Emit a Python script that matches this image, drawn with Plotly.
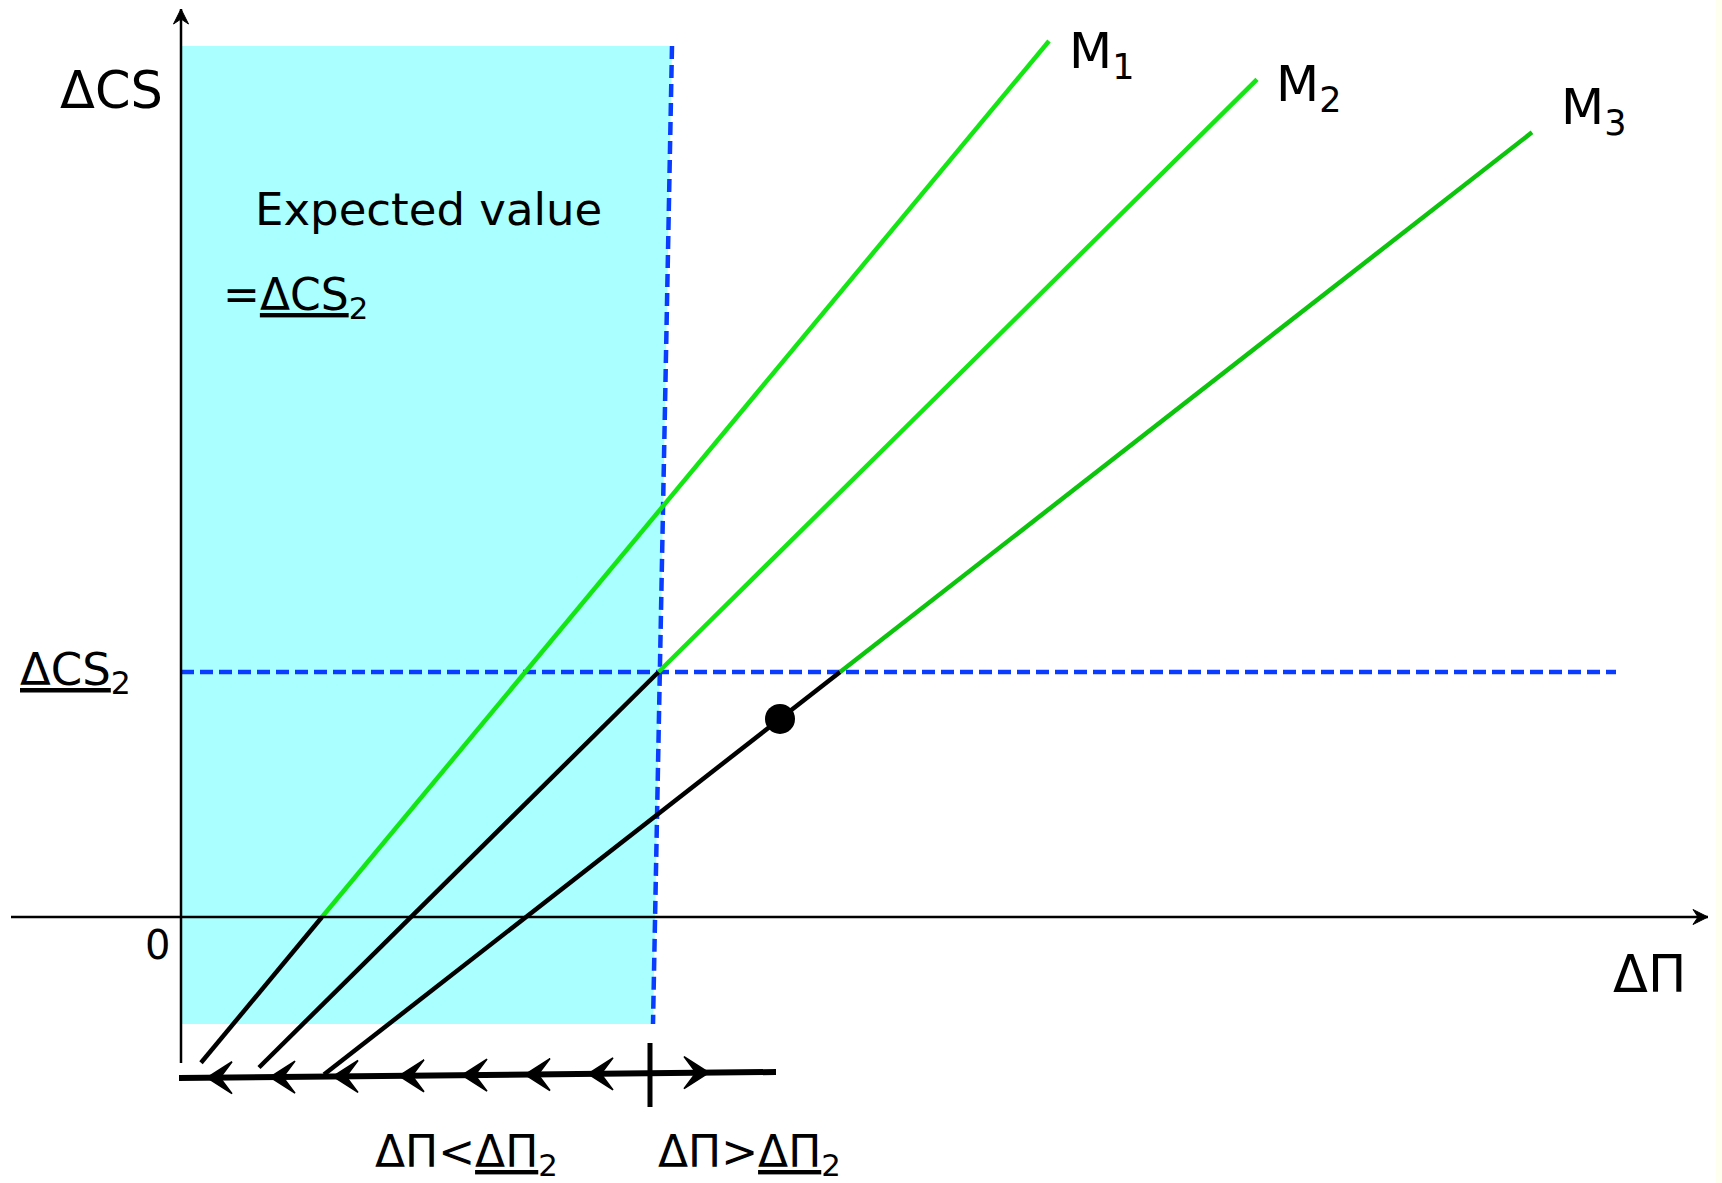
import plotly.graph_objects as go

# ---- data (conceptual diagram units; origin = (0,0) of ΔΠ / ΔCS axes) ----
model_names = ["M<sub>1</sub>", "M<sub>2</sub>", "M<sub>3</sub>"]
x_intercepts = [1.41, 2.30, 3.45]        # ΔΠ where each M line crosses ΔCS = 0
slopes = [1.205, 0.99, 0.78]
line_start_x = [0.20, 0.78, 1.43]        # start of the black part
line_end_x = [8.68, 10.76, 13.51]        # end of the green part
green_colors = ["#14e614", "#14e614", "#0cc40c"]

dcs2 = 2.45                               # ΔCS_2 threshold
dpi2_top, dpi2_bottom = 4.91, 4.72        # ΔΠ_2 dashed line (slightly slanted)
region_top, region_bottom = 8.71, -1.07   # expected-value shaded region
dcs2_line_end = 14.35

dot_x = 5.99                              # point on M3

axis_x_range = [-1.70, 15.27]
axis_y_range = [-1.46, 9.08]

numline_x = [-0.02, 5.95]
numline_y = [-1.61, -1.55]
tick_x = 4.69
tick_y = [-1.26, -1.90]
left_arrow_tips = [0.26, 0.89, 1.52, 2.18, 2.81, 3.44, 4.07]
right_arrow_tips = [5.28]

BLUE = "#0a3cff"
CYAN = "#aaffff"
FONT = "DejaVu Sans"

fig = go.Figure()

# shaded expected-value region
fig.add_trace(go.Scatter(
    x=[0, dpi2_top, dpi2_bottom, 0, 0],
    y=[region_top, region_top, region_bottom, region_bottom, region_top],
    fill="toself", fillcolor=CYAN, line=dict(width=0), mode="lines",
    hoverinfo="skip"))

# blue dashed lines
fig.add_trace(go.Scatter(x=[0, dcs2_line_end], y=[dcs2, dcs2], mode="lines",
                         line=dict(color=BLUE, width=4.5, dash="13px,6px")))
fig.add_trace(go.Scatter(x=[dpi2_top, dpi2_bottom], y=[region_top, region_bottom], mode="lines",
                         line=dict(color=BLUE, width=4.5, dash="13px,6px")))

# model lines: black below threshold, green above
for i in range(3):
    s, x0 = slopes[i], x_intercepts[i]
    ys = s * (line_start_x[i] - x0)
    ye = s * (line_end_x[i] - x0)
    y_switch = 0.0 if i == 0 else dcs2
    x_switch = x0 + y_switch / s
    fig.add_trace(go.Scatter(x=[line_start_x[i], x_switch], y=[ys, y_switch], mode="lines",
                             line=dict(color="black", width=4.5)))
    fig.add_trace(go.Scatter(x=[x_switch, line_end_x[i]], y=[y_switch, ye], mode="lines",
                             line=dict(color=green_colors[i], width=4.5)))

# dot on M3
fig.add_trace(go.Scatter(x=[dot_x], y=[slopes[2] * (dot_x - x_intercepts[2])], mode="markers",
                         marker=dict(color="black", size=30)))

# main axes (lines + stealth arrowheads)
fig.add_trace(go.Scatter(x=axis_x_range, y=[0, 0], mode="lines",
                         line=dict(color="black", width=2.5)))
fig.add_trace(go.Scatter(x=[0, 0], y=axis_y_range, mode="lines",
                         line=dict(color="black", width=2.5)))
xt, yt = axis_x_range[1], axis_y_range[1]
fig.add_trace(go.Scatter(
    x=[xt, xt - 0.15, xt - 0.10, xt - 0.15, xt, None, 0, 0.075, 0, -0.075, 0],
    y=[0, 0.075, 0, -0.075, 0, None, yt, yt - 0.15, yt - 0.10, yt - 0.15, yt],
    mode="lines", fill="toself", fillcolor="black", line=dict(color="black", width=1)))

# number line below
fig.add_trace(go.Scatter(x=numline_x, y=numline_y, mode="lines",
                         line=dict(color="black", width=6)))
fig.add_trace(go.Scatter(x=[tick_x, tick_x], y=tick_y, mode="lines",
                         line=dict(color="black", width=5)))

def line_y(x):
    return numline_y[0] + (x - numline_x[0]) / (numline_x[1] - numline_x[0]) * (numline_y[1] - numline_y[0])

cx, cy = [], []
for t in left_arrow_tips:
    y = line_y(t)
    cx += [t, t + 0.25, t + 0.13, t + 0.25, t, None]
    cy += [y, y + 0.16, y, y - 0.16, y, None]
for t in right_arrow_tips:
    y = line_y(t)
    cx += [t, t - 0.25, t - 0.13, t - 0.25, t, None]
    cy += [y, y + 0.16, y, y - 0.16, y, None]
fig.add_trace(go.Scatter(x=cx, y=cy, mode="lines", fill="toself", fillcolor="black",
                         line=dict(color="black", width=1.5)))

# text labels
def label(x, y, text, size, xanchor="left", yanchor="middle"):
    fig.add_annotation(x=x, y=y, xref="x", yref="y", text=text, showarrow=False,
                       xanchor=xanchor, yanchor=yanchor,
                       font=dict(family=FONT, size=size, color="black"))

label(-0.70, 8.27, "ΔCS", 51, xanchor="center")
label(0.72, 7.08, "Expected value", 45)
label(0.40, 6.20, "=<u>ΔCS</u><sub>2</sub>", 44)
label(-1.63, 2.45, "<u>ΔCS</u><sub>2</sub>", 45)
label(-0.24, -0.28, "0", 40, xanchor="center")
label(15.07, -0.57, "ΔΠ", 51, xanchor="right")
label(8.86, 8.63, model_names[0], 50)
label(10.93, 8.30, model_names[1], 50)
label(13.78, 8.07, model_names[2], 50)
label(1.92, -2.37, "ΔΠ<<u>ΔΠ</u><sub>2</sub>", 44)
label(4.75, -2.37, "ΔΠ><u>ΔΠ</u><sub>2</sub>", 44)

# faint strip at right edge
fig.add_shape(type="rect", xref="paper", yref="paper", x0=0.9965, x1=1, y0=0, y1=1,
              fillcolor="#fffff0", line=dict(width=0), layer="below")

fig.update_layout(
    width=1722, height=1183, margin=dict(l=0, r=0, t=0, b=0),
    plot_bgcolor="white", paper_bgcolor="white", showlegend=False,
    xaxis=dict(range=[-1.81, 15.41], visible=False, fixedrange=True),
    yaxis=dict(range=[-2.66, 9.17], visible=False, fixedrange=True),
)

fig.write_html("out.html", config={"displayModeBar": False},
               post_script="document.body.style.margin='0';document.body.style.overflow='hidden';")
